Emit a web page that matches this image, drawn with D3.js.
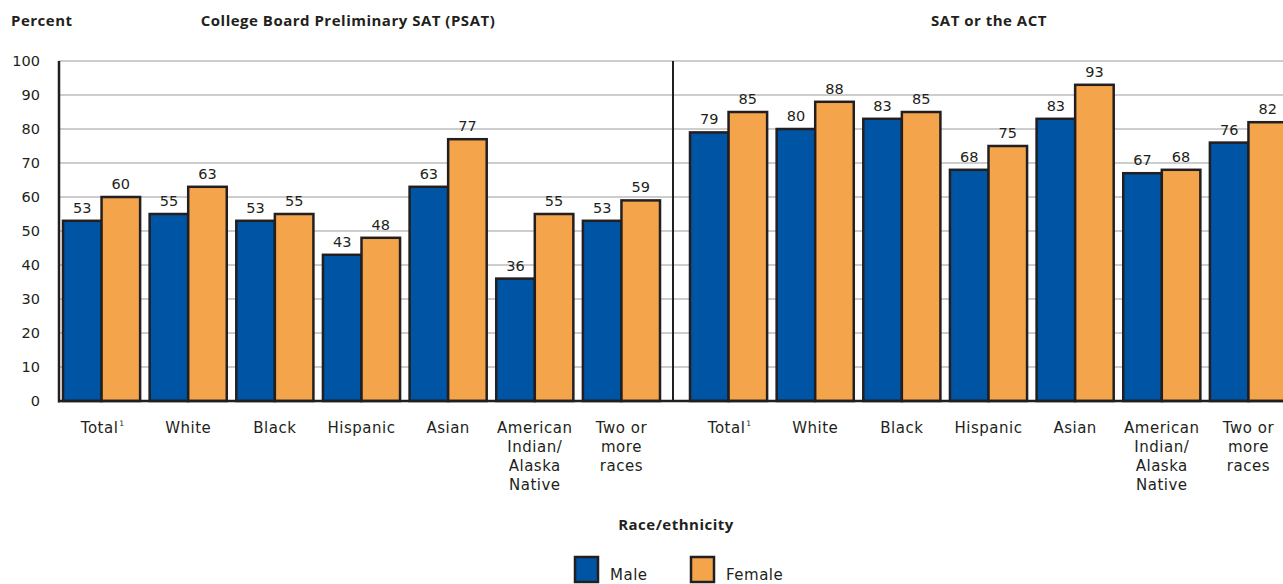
<!DOCTYPE html>
<html><head><meta charset="utf-8">
<script src="https://cdn.jsdelivr.net/npm/d3@7"></script>
<style>body{margin:0;background:#fff}svg{display:block}text{font-family:"DejaVu Sans",sans-serif;fill:#231f20}text.b{font-family:"Open Sans",sans-serif;font-weight:700}</style>
</head><body><svg id="c" width="1283" height="584"></svg>
<script>
const categories = ["Total¹","White","Black","Hispanic","Asian","American Indian/ Alaska Native","Two or more races"];
const catLines = [["Total|1"],["White"],["Black"],["Hispanic"],["Asian"],["American","Indian/","Alaska","Native"],["Two or","more","races"]];
const psatMale   = [53,55,53,43,63,36,53];
const psatFemale = [60,63,55,48,77,55,59];
const satMale    = [79,80,83,68,83,67,76];
const satFemale  = [85,88,85,75,93,68,82];
const yTicks = [0,10,20,30,40,50,60,70,80,90,100];
const panels = ["College Board Preliminary SAT (PSAT)","SAT or the ACT"];
const seriesNames = ["Male","Female"];
const colors = ["#0054a4","#f4a54b"];
const ink = "#231f20";
const grey = "#404040";

const svg = d3.select("#c");
const y = d3.scaleLinear().domain([0,100]).range([401,61]);
const xL = d3.scaleBand().domain(categories).range([63,660]).paddingInner(0.11).paddingOuter(0);
const xR = d3.scaleBand().domain(categories).range([690,1287]).paddingInner(0.11).paddingOuter(0);

// gridlines
svg.append("g").selectAll("line").data(yTicks.filter(d=>d>0)).join("line")
  .attr("x1",59).attr("x2",1283).attr("y1",d=>y(d)).attr("y2",d=>y(d))
  .attr("stroke","#bdbdbd").attr("stroke-width",1.5);
// y labels
svg.append("g").selectAll("text").data(yTicks).join("text")
  .attr("x",40).attr("y",d=>y(d)).attr("dy","0.35em").attr("text-anchor","end")
  .attr("font-size",14.5).text(d=>d);

function drawPanel(x, male, female, title, titleX){
  const sub = d3.scaleBand().domain([0,1]).range([0,x.bandwidth()]);
  const g = svg.append("g");
  const data = categories.map((c,i)=>({c,vals:[male[i],female[i]]}));
  const grp = g.selectAll("g").data(data).join("g").attr("transform",d=>`translate(${x(d.c)},0)`);
  grp.selectAll("rect").data(d=>d.vals.map((v,j)=>({v,j}))).join("rect")
    .attr("x",d=>sub(d.j)).attr("width",sub.bandwidth())
    .attr("y",d=>y(d.v)).attr("height",d=>y(0)-y(d.v))
    .attr("fill",d=>colors[d.j]).attr("stroke",ink).attr("stroke-width",2.5);
  grp.selectAll("text.v").data(d=>d.vals.map((v,j)=>({v,j}))).join("text").attr("class","v")
    .attr("x",d=>sub(d.j)+sub.bandwidth()/2).attr("y",d=>y(d.v)-8)
    .attr("text-anchor","middle").attr("font-size",14.5).text(d=>d.v);
  // category labels, one text per line
  categories.forEach((c,i)=>{
    const cx = x(c)+x.bandwidth()/2;
    catLines[i].forEach((ln,k)=>{
      const yy = 433 + k*19;
      if(ln.includes("|")){
        const [a,b]=ln.split("|");
        const t = g.append("text").attr("text-anchor","middle").attr("font-size",15)
          .attr("letter-spacing",0.5).attr("fill",grey).attr("x",cx-2).attr("y",yy).text(a);
        const w = t.node().getComputedTextLength();
        g.append("text").attr("font-size",7.5).attr("fill",grey)
          .attr("x",cx-1+w/2).attr("y",yy-7).text(b);
      } else {
        g.append("text").attr("text-anchor","middle").attr("font-size",15)
          .attr("letter-spacing",0.5).attr("fill",grey).attr("x",cx).attr("y",yy).text(ln);
      }
    });
  });
  svg.append("text").attr("class","b").attr("x",titleX).attr("y",26).attr("text-anchor","middle")
    .attr("font-size",15).attr("letter-spacing",0.5).text(title);
}
drawPanel(xL, psatMale, psatFemale, panels[0], 348);
drawPanel(xR, satMale, satFemale, panels[1], 989);

// axes lines
svg.append("line").attr("x1",59).attr("x2",59).attr("y1",y(100)).attr("y2",y(0)+1.5).attr("stroke",ink).attr("stroke-width",2.5);
svg.append("line").attr("x1",673).attr("x2",673).attr("y1",y(100)).attr("y2",y(0)).attr("stroke",ink).attr("stroke-width",2);
svg.append("line").attr("x1",58).attr("x2",1283).attr("y1",y(0)).attr("y2",y(0)).attr("stroke",ink).attr("stroke-width",2.5);

svg.append("text").attr("class","b").attr("x",11).attr("y",26).attr("font-size",15).attr("letter-spacing",0.5).text("Percent");
svg.append("text").attr("class","b").attr("x",676).attr("y",530).attr("text-anchor","middle").attr("font-size",15).attr("letter-spacing",0.5).text("Race/ethnicity");

// legend
const leg = svg.append("g").selectAll("g").data(seriesNames).join("g")
  .attr("transform",(d,i)=>`translate(${575+i*116},557)`);
leg.append("rect").attr("width",23).attr("height",25).attr("fill",(d,i)=>colors[i]).attr("stroke",ink).attr("stroke-width",2.5);
leg.append("text").attr("x",35).attr("y",23).attr("font-size",15).attr("letter-spacing",0.5).attr("fill",grey).text(d=>d);
</script></body></html>
